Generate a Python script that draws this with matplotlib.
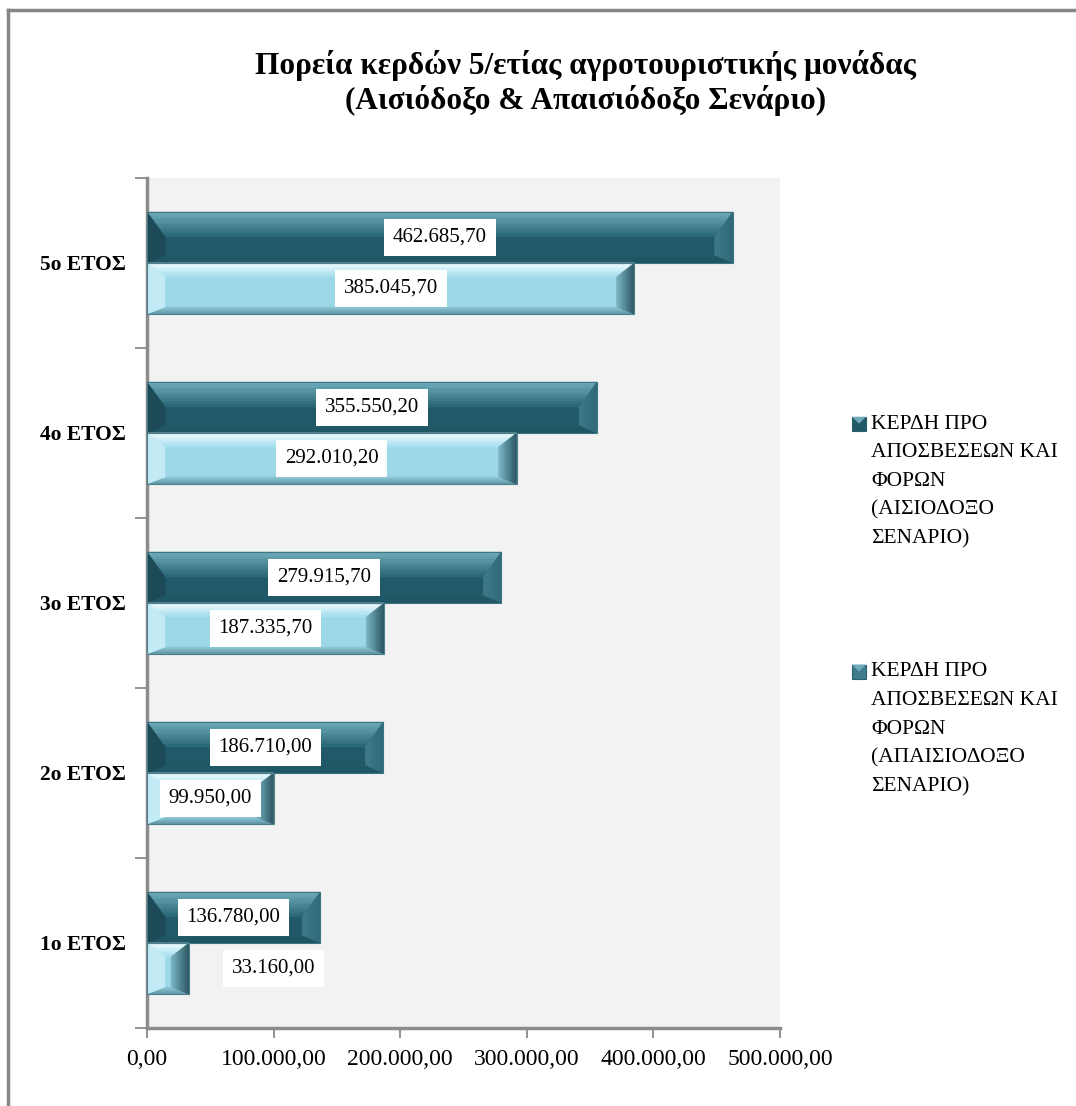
import matplotlib.pyplot as plt
from matplotlib.patches import Polygon, Rectangle
from matplotlib.lines import Line2D
from matplotlib.colors import to_rgb
import numpy as np

plt.rcParams['font.family'] = ['Liberation Serif', 'DejaVu Serif']

years = ['1o ΕΤΟΣ', '2o ΕΤΟΣ', '3o ΕΤΟΣ', '4o ΕΤΟΣ', '5o ΕΤΟΣ']
optimistic = [136780.00, 186710.00, 279915.70, 355550.20, 462685.70]
pessimistic = [33160.00, 99950.00, 187335.70, 292010.20, 385045.70]
xticks = [0, 100000, 200000, 300000, 400000, 500000]
title = 'Πορεία κερδών 5/ετίας αγροτουριστικής μονάδας\n(Αισιόδοξο & Απαισιόδοξο Σενάριο)'
leg_opt = 'ΚΕΡΔΗ ΠΡΟ\nΑΠΟΣΒΕΣΕΩΝ ΚΑΙ\nΦΟΡΩΝ\n(ΑΙΣΙΟΔΟΞΟ\nΣΕΝΑΡΙΟ)'
leg_pes = 'ΚΕΡΔΗ ΠΡΟ\nΑΠΟΣΒΕΣΕΩΝ ΚΑΙ\nΦΟΡΩΝ\n(ΑΠΑΙΣΙΟΔΟΞΟ\nΣΕΝΑΡΙΟ)'

# bevel styles (colours + sizes in pixels)
dark = dict(main='#215968', top=('#6eaaba', '#2a6978'), bot=('#215968', '#1f5563'),
            left='#1c4b57', right=('#3f7a89', '#2f6b7a'), edge='#3d7482',
            bx=18, bt=25, bb=8)
light = dict(main='#9dd8e8', top=('#f2fdff', '#a8dfee'), bot=('#8cc6d5', '#5f95a3'),
             left='#c2ebf6', right=('#79b4c3', '#2d5964'), edge='#4c7f8c',
             bx=18, bt=14, bb=7)

PX_X = 500000 / 633.0   # data units per pixel
PX_Y = 1 / 170.0


def fmt(v):
    s = '{:,.2f}'.format(v)
    return s.replace(',', 'X').replace('.', ',').replace('X', '.')


def mix(c0, c1, t):
    a, b = np.array(to_rgb(c0)), np.array(to_rgb(c1))
    return tuple(a + (b - a) * t)


def poly(ax, pts, c):
    ax.add_patch(Polygon(pts, facecolor=c, edgecolor=c, lw=0.4, zorder=3))


def bevel(ax, p, st, n=10):
    x0, y0 = p.get_x(), p.get_y()
    w, h = p.get_width(), p.get_height()
    x1, y1 = x0 + w, y0 + h
    bx = min(st['bx'] * PX_X, w / 2)
    bt = st['bt'] * PX_Y
    bb = st['bb'] * PX_Y
    # top bevel as gradient strips
    for i in range(n):
        d0, d1 = bt * i / n, bt * (i + 1) / n
        poly(ax, [(x0 + bx * d0 / bt, y1 - d0), (x1 - bx * d0 / bt, y1 - d0),
                  (x1 - bx * d1 / bt, y1 - d1), (x0 + bx * d1 / bt, y1 - d1)],
             mix(*st['top'], i / (n - 1)))
    for i in range(n):
        d0, d1 = bb * i / n, bb * (i + 1) / n
        poly(ax, [(x0 + bx * d0 / bb, y0 + d0), (x1 - bx * d0 / bb, y0 + d0),
                  (x1 - bx * d1 / bb, y0 + d1), (x0 + bx * d1 / bb, y0 + d1)],
             mix(*st['bot'], 1 - i / (n - 1)))
    poly(ax, [(x0, y0), (x0, y1), (x0 + bx, y1 - bt), (x0 + bx, y0 + bb)], st['left'])
    for i in range(n):
        e0, e1 = bx * i / n, bx * (i + 1) / n
        poly(ax, [(x1 - bx + e0, y1 - bt * (bx - e0) / bx), (x1 - bx + e1, y1 - bt * (bx - e1) / bx),
                  (x1 - bx + e1, y0 + bb * (bx - e1) / bx), (x1 - bx + e0, y0 + bb * (bx - e0) / bx)],
             mix(*st['right'], i / (n - 1)))
    ax.add_patch(Rectangle((x0, y0), w, h, fill=False, edgecolor=st['edge'], lw=0.8, zorder=4))


fig = plt.figure(figsize=(10.76, 11.06), dpi=100)
ax = fig.add_axes([147 / 1076, 1 - 1028 / 1106, 633 / 1076, 850 / 1106])
ax.set_facecolor('#f2f2f2')

y = np.arange(len(years))
bh = 0.3
b1 = ax.barh(y + bh / 2, optimistic, height=bh, color=dark['main'], zorder=2)
b2 = ax.barh(y - bh / 2, pessimistic, height=bh, color=light['main'], zorder=2)

ax.set_xlim(0, 500000)
ax.set_ylim(-0.5, len(years) - 0.5)

box = dict(boxstyle='square,pad=0.42', fc='white', ec='none')
for bars, st, vals in [(b1, dark, optimistic), (b2, light, pessimistic)]:
    for p, v in zip(bars, vals):
        bevel(ax, p, st)
        cy = p.get_y() + p.get_height() / 2
        if v < 60000:
            ax.text(v + 34000, cy, fmt(v), ha='left', va='center', fontsize=15, zorder=5, bbox=box)
        else:
            ax.text(v / 2, cy, fmt(v), ha='center', va='center', fontsize=15, zorder=5, bbox=box)

ax.set_yticks(y)
ax.set_yticklabels(years, fontsize=15.5, fontweight='bold')
ax.set_yticks(np.arange(-0.5, len(years)), minor=True)
ax.tick_params(axis='y', which='major', length=0, pad=15)
ax.tick_params(axis='y', which='minor', length=9, width=1.2, color='#808080', direction='out')
ax.set_xticks(xticks)
ax.set_xticklabels([fmt(v) for v in xticks], fontsize=17)
ax.tick_params(axis='x', length=7, width=1.2, color='#808080', pad=8)

for s in ['top', 'right']:
    ax.spines[s].set_visible(False)
for s in ['left', 'bottom']:
    ax.spines[s].set_color('#8c8c8c')
    ax.spines[s].set_linewidth(2.5)

fig.text(0.544, 0.925, title, ha='center', va='center', fontsize=22.5, fontweight='bold',
         linespacing=1.2)

# legend drawn by hand
for ty, txt, c in [(0.625, leg_opt, dark['main']), (0.401, leg_pes, '#3f7d8d')]:
    fx, fy, fw, fh = 852 / 1076, ty - 0.0145, 14 / 1076, 14 / 1106
    fig.patches.append(Rectangle((fx, fy), fw, fh, transform=fig.transFigure,
                                 facecolor=c, edgecolor='#2c5f6b', lw=0.8))
    fig.patches.append(Polygon([(fx, fy + fh), (fx + fw, fy + fh), (fx + fw / 2, fy + fh / 2)],
                               transform=fig.transFigure, facecolor='#6eaaba', edgecolor='none'))
    fig.text(871 / 1076, ty, txt, ha='left', va='top', fontsize=15.5, linespacing=1.68)

# outer frame on left and top
fig.add_artist(Line2D([0.0075, 0.0075], [0, 0.991], color='#868686', lw=2.5, transform=fig.transFigure))
fig.add_artist(Line2D([0.0075, 1.0], [0.991, 0.991], color='#868686', lw=2.5, transform=fig.transFigure))

fig.savefig('out.png', dpi=100)
